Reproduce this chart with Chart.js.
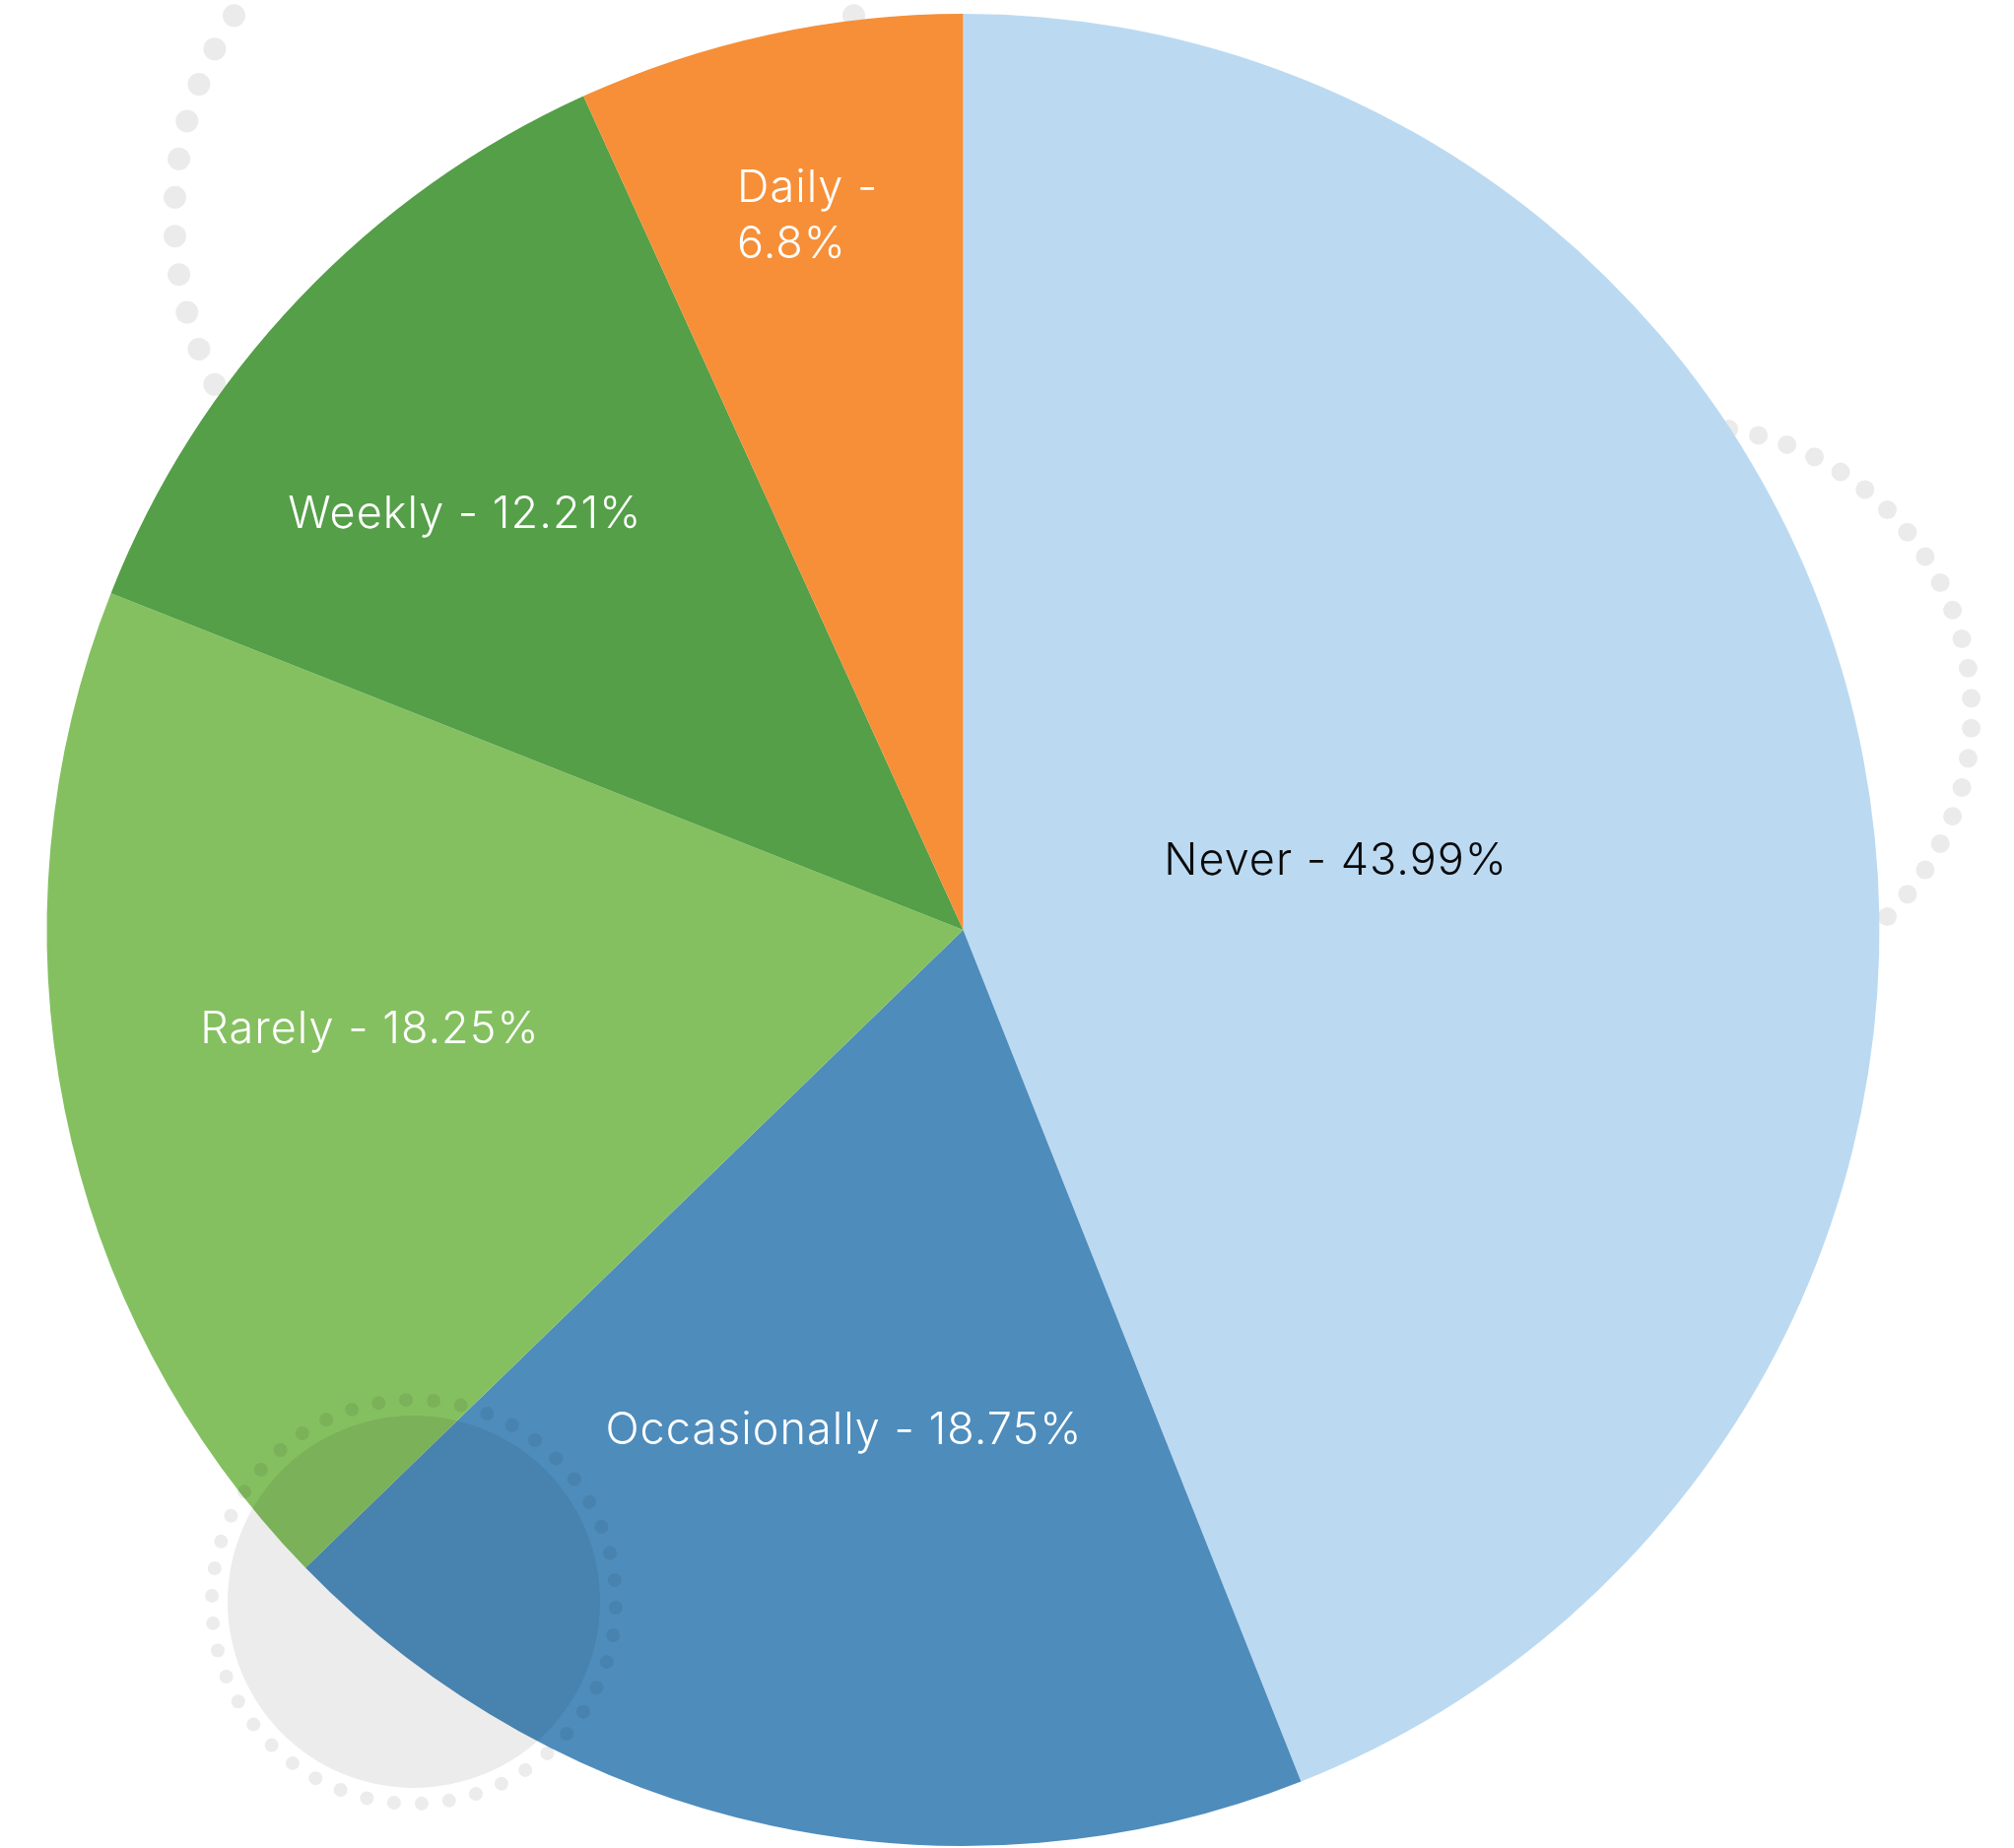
<!DOCTYPE html>
<html>
<head>
<meta charset="utf-8">
<script src="https://cdn.jsdelivr.net/npm/chart.js@4"></script>
<style>
  html, body { margin: 0; padding: 0; background: #fff; }
  #wrap { width: 2044px; height: 1876px; }
</style>
</head>
<body>
<div id="wrap"><canvas id="pieChart" width="2044" height="1876"></canvas></div>
<script>
const categories = ["Never", "Occasionally", "Rarely", "Weekly", "Daily"];
const shares = [43.99, 18.75, 18.25, 12.21, 6.8];

const sliceColors = ["#bbdaf2", "#4e8cbc", "#84c060", "#549f47", "#f68f38"];
const labelColors = ["#0a0a0a", "#ffffff", "#ffffff", "#ffffff", "#ffffff"];
// where the label sits: fraction along the slice angle, fraction of radius
const labelAngle = [0.50, 0.52, 0.53, 0.42, 0.50];
const labelRadius = [0.414, 0.559, 0.656, 0.71, 0.80];
const labelWrap = [false, false, false, false, true];

const FONT = "300 45px Inter, 'Noto Sans', sans-serif";

function dottedRing(ctx, cx, cy, r, count, dot, offsetDeg, color) {
  ctx.fillStyle = color;
  for (let i = 0; i < count; i++) {
    const a = (offsetDeg + i * 360 / count) * Math.PI / 180;
    ctx.beginPath();
    ctx.arc(cx + r * Math.cos(a), cy + r * Math.sin(a), dot / 2, 0, Math.PI * 2);
    ctx.fill();
  }
}

const decorations = {
  id: "decorations",
  beforeDatasetsDraw(chart) {
    const ctx = chart.ctx;
    ctx.save();
    dottedRing(ctx, 552, 220, 375, 60, 23, 3, "#ebebeb");
    dottedRing(ctx, 1709, 724, 292, 60, 19, 3, "#ebebeb");
    ctx.restore();
  },
  afterDatasetsDraw(chart) {
    const ctx = chart.ctx;
    ctx.save();
    ctx.globalCompositeOperation = "multiply";
    ctx.fillStyle = "#ececec";
    ctx.beginPath();
    ctx.arc(420, 1626, 189, 0, Math.PI * 2);
    ctx.fill();
    dottedRing(ctx, 420, 1626, 205, 46, 14, 181.7, "#ececec");
    ctx.restore();

    // slice labels
    const meta = chart.getDatasetMeta(0);
    ctx.save();
    ctx.font = FONT;
    ctx.letterSpacing = "1px";
    ctx.textBaseline = "alphabetic";
    meta.data.forEach((arc, i) => {
      const p = arc.getProps(["x", "y", "startAngle", "endAngle", "outerRadius"], true);
      const ang = p.startAngle + labelAngle[i] * (p.endAngle - p.startAngle);
      const lx = p.x + labelRadius[i] * p.outerRadius * Math.cos(ang);
      const ly = p.y + labelRadius[i] * p.outerRadius * Math.sin(ang);
      const text = categories[i] + " - " + shares[i] + "%";
      const lines = labelWrap[i] ? [categories[i] + " -", shares[i] + "%"] : [text];
      const lineH = 57;
      const capH = 33;
      const w = Math.max(...lines.map(l => ctx.measureText(l).width));
      ctx.fillStyle = labelColors[i];
      lines.forEach((l, j) => {
        const y = ly - (lines.length - 1) * lineH / 2 + j * lineH + capH / 2;
        if (lines.length > 1) {
          ctx.textAlign = "left";
          ctx.fillText(l, lx - w / 2, y);
        } else {
          ctx.textAlign = "center";
          ctx.fillText(l, lx, y);
        }
      });
    });
    ctx.restore();
  }
};

new Chart(document.getElementById("pieChart"), {
  type: "pie",
  data: {
    labels: categories,
    datasets: [{
      data: shares,
      backgroundColor: sliceColors,
      borderWidth: 0
    }]
  },
  options: {
    responsive: false,
    animation: false,
    layout: { padding: { left: 47, right: 136, top: 14, bottom: 2 } },
    plugins: {
      legend: { display: false },
      tooltip: { enabled: false }
    }
  },
  plugins: [decorations]
});
</script>
</body>
</html>
